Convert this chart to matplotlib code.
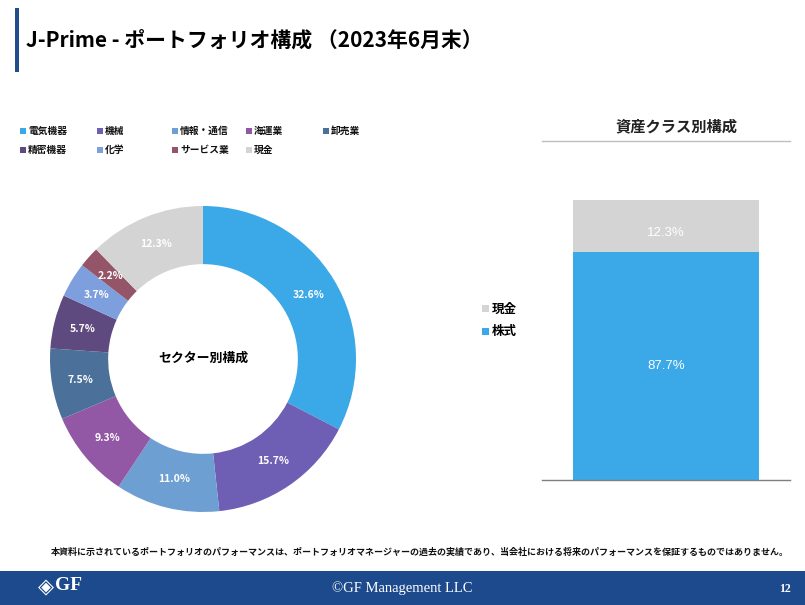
import matplotlib
matplotlib.use("Agg")
import matplotlib.pyplot as plt
from matplotlib.patches import Rectangle

plt.rcParams['font.family'] = ['Noto Sans CJK JP', 'DejaVu Sans']

# ---- data ----
sectors = ['電気機器', '機械', '情報・通信', '海運業', '卸売業', '精密機器', '化学', 'サービス業', '現金']
sector_values = [32.6, 15.7, 11.0, 9.3, 7.5, 5.7, 3.7, 2.2, 12.3]
sector_colors = ['#3BA8E8', '#6E5FB5', '#6E9FD2', '#9257A5', '#4B7099',
                 '#5E4A7E', '#7E9FDE', '#935567', '#D4D4D4']

asset_classes = ['株式', '現金']
asset_values = [87.7, 12.3]
asset_colors = ['#3BA8E8', '#D4D4D4']

W, H = 805, 605
fig = plt.figure(figsize=(W / 100, H / 100), dpi=100)
fig.patch.set_facecolor('white')

def fx(x):
    return x / W

def fy(y):
    return 1 - y / H

# ---- title ----
fig.patches.append(Rectangle((fx(15), fy(72)), 4 / W, 64 / H, transform=fig.transFigure,
                             facecolor='#1F4E8C', edgecolor='none'))
fig.text(fx(26), fy(40), 'J-Prime - ポートフォリオ構成 （2023年6月末）', fontsize=15,
         fontweight='bold', va='center', ha='left', color='black')

# ---- sector legend ----
col_x = [20, 97, 172, 246, 323]
row_y = [131, 150]
for i, (name, col) in enumerate(zip(sectors, sector_colors)):
    r, c = divmod(i, 5)
    x, y = col_x[c], row_y[r]
    fig.patches.append(Rectangle((fx(x), fy(y + 3)), 6 / W, 6 / H, transform=fig.transFigure,
                                 facecolor=col, edgecolor='none'))
    fig.text(fx(x + 8), fy(y), name, fontsize=7, fontweight='bold', va='center', ha='left',
             color='#111111')

# ---- donut ----
cx, cy, R = 203, 359, 153
ax = fig.add_axes([fx(cx - R), fy(cy + R), 2 * R / W, 2 * R / H])
wedges, texts, autotexts = ax.pie(sector_values, colors=sector_colors, startangle=90,
                                  counterclock=False, radius=1.0,
                                  autopct=lambda p: f'{p:.1f}%', pctdistance=0.81,
                                  wedgeprops=dict(width=0.38, edgecolor='none'))
for t in autotexts:
    t.set_color('white')
    t.set_fontsize(7.5)
    t.set_fontweight('bold')
ax.set_xlim(-1, 1)
ax.set_ylim(-1, 1)
ax.set_aspect('equal')
ax.axis('off')
ax.text(0, 0.01, 'セクター別構成', ha='center', va='center', fontsize=9.3, fontweight='bold')

# ---- asset class bar ----
bx = fig.add_axes([fx(542), fy(480), (790 - 542) / W, (480 - 141) / H])
ylo, yhi = 33.8, 114
bottom = 0
for name, val, col in zip(asset_classes, asset_values, asset_colors):
    bx.bar(0, val, bottom=bottom, width=0.75, color=col, edgecolor='none')
    vis_lo = max(bottom, ylo)
    ymid = (vis_lo + bottom + val) / 2
    if name == '現金':
        ymid -= 1.6
    bx.text(0, ymid, f'{val:.1f}%', ha='center', va='center', color='white', fontsize=9.5,
            family=['Liberation Sans', 'DejaVu Sans'])
    bottom += val
bx.set_xlim(-0.5, 0.5)
bx.set_ylim(ylo, yhi)
bx.set_xticks([])
bx.set_yticks([])
for s in ['left', 'right']:
    bx.spines[s].set_visible(False)
bx.spines['top'].set_color('#BFBFBF')
bx.spines['top'].set_linewidth(1.0)
bx.spines['bottom'].set_color('#7F7F7F')
bx.spines['bottom'].set_linewidth(1.0)
fig.text(fx(676), fy(126), '資産クラス別構成', ha='center', va='center', fontsize=11,
         fontweight='bold', color='#222222')

# bar legend (reverse order: 現金 on top)
leg_y = [309, 331]
for (name, col), y in zip(list(zip(asset_classes, asset_colors))[::-1], leg_y):
    fig.patches.append(Rectangle((fx(482), fy(y + 3.5)), 7 / W, 7 / H, transform=fig.transFigure,
                                 facecolor=col, edgecolor='none'))
    fig.text(fx(492), fy(y), name, fontsize=9, fontweight='bold', va='center', ha='left')

# ---- footer ----
fig.text(fx(420), fy(552),
         '本資料に示されているポートフォリオのパフォーマンスは、ポートフォリオマネージャーの過去の実績であり、当会社における将来のパフォーマンスを保証するものではありません。',
         fontsize=6.5, fontweight='bold', ha='center', va='center', color='#111111')
fig.patches.append(Rectangle((0, 0), 1, (605 - 571) / H, transform=fig.transFigure,
                             facecolor='#1D4A8C', edgecolor='none'))
fig.text(fx(402), fy(588), '©GF Management LLC', fontsize=10.5, ha='center', va='center',
         color='white', family=['Liberation Serif', 'DejaVu Serif'])
fig.text(fx(785), fy(589), '12', fontsize=8.5, ha='center', va='center', color='white',
         fontweight='bold', family=['Liberation Serif', 'DejaVu Serif'])
fig.text(fx(46), fy(587), '◈', fontsize=15, ha='center', va='center', color='white',
         family=['DejaVu Sans'])
fig.text(fx(68), fy(586), 'GF', fontsize=14, ha='center', va='center', color='white',
         family=['Liberation Serif', 'DejaVu Serif'], fontweight='bold')

fig.savefig('out.png', dpi=100, facecolor='white')
